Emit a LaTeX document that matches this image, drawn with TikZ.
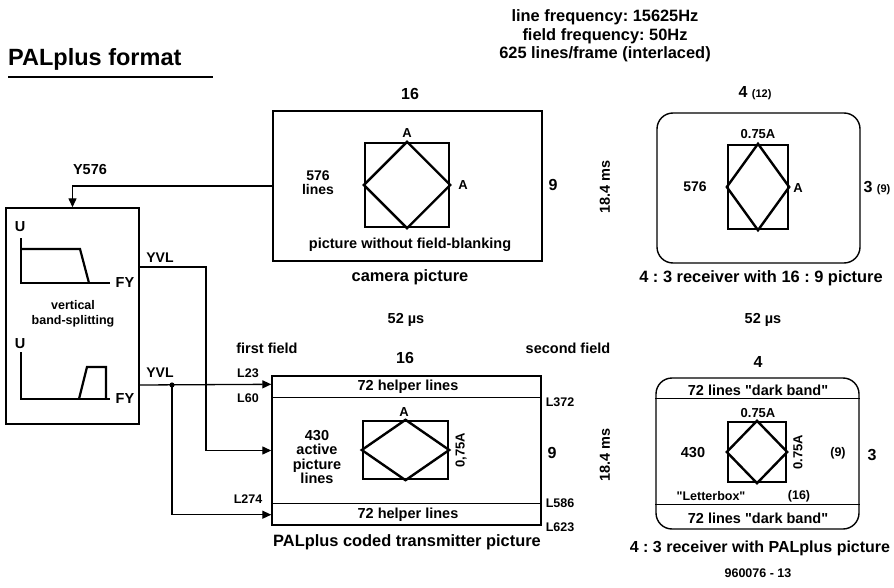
\documentclass[tikz,border=0pt]{standalone}
\usepackage{fontspec}
\setmainfont{Liberation Sans}[Ligatures=TeXOff]
\usetikzlibrary{arrows.meta,calc}
\newcommand{\setpx}[2]{\fontsize{#1}{#2}\selectfont\bfseries}
\tikzset{
  screen/.style = {draw, line width=1.4pt, inner sep=0pt},
  tvset/.style  = {screen, rounded corners=16pt},
  rule/.style   = {line width=1.4pt},
  chart/.style  = {draw, line width=2.4pt, inner sep=0pt},
  curve/.style  = {line width=2.2pt},
  wire/.style   = {line width=1.3pt},
  feed/.style   = {wire, -{Triangle[length=9pt, width=8pt]}},
  capt/.style   = {font=\setpx{16.4}{18.5}, inner sep=1pt, align=center},
  big/.style    = {font=\setpx{16}{18}, inner sep=1pt},
  lab/.style    = {font=\setpx{14.5}{14.5}, inner sep=1pt, align=center},
  sml/.style    = {font=\setpx{12.5}{15.5}, inner sep=1pt, align=center},
  tag/.style    = {font=\setpx{13}{14}, inner sep=1pt},
}

\begin{document}
\frenchspacing
\begin{tikzpicture}[x=1pt, y=-1pt]
  \useasboundingbox (0,0) rectangle (894,588);

  % heading
  \node[font=\setpx{23.5}{26}, anchor=base west, inner sep=0pt] (title) at (8,66) {PALplus format};
  \draw[wire] ($(title.base west)+(0,11)$) -- ++(205,0);
  \node[capt] (info) at (605,36) {line frequency: 15625Hz\\field frequency: 50Hz\\625 lines/frame (interlaced)};

  % camera picture
  \node[screen, minimum width=269pt, minimum height=150pt] (cam) at (407.5,186) {};
  \node[chart, minimum size=84pt] (camsq) at (407,185) {};
  \draw[chart] (camsq.north) -- (camsq.east) -- (camsq.south) -- (camsq.west) -- cycle;
  \node[big]  (camw)  at (410,94)  {16};
  \node[big]  (camh)  at (553,185) {9};
  \node[tag]  (cama)  at (407,133) {A};
  \node[tag]  (camb)  at (463,185) {A};
  \node[lab, font=\setpx{14}{14}] (camln) at (318,183) {576\\lines};
  \node[lab]  (camnb) at (410,245) {picture without field-blanking};
  \node[capt] (camcp) at (410,277) {camera picture};
  \node[lab, rotate=90] (camms) at (605,187) {18.4 ms};
  \node[lab]  (camus) at (406,320) {52 µs};

  % 4:3 receiver with 16:9 picture
  \node[tvset, minimum width=203pt, minimum height=150pt] (rxa) at (758.5,188) {};
  \node[chart, minimum width=60pt, minimum height=84pt] (rxasq) at (758,187) {};
  \draw[chart] (rxasq.north) -- (rxasq.east) -- (rxasq.south) -- (rxasq.west) -- cycle;
  \node[big]  (rxaw)  at (755,93)  {4 {\setpx{11}{12}(12)}};
  \node[big]  (rxah)  at (877,188) {3 {\setpx{11}{12}(9)}};
  \node[tag]  (rxaa)  at (758,134) {0.75A};
  \node[tag]  (rxab)  at (798,188) {A};
  \node[lab, font=\setpx{14}{14}] (rxaln) at (695,187) {576};
  \node[capt] (rxacp) at (761,278) {4 : 3 receiver with 16 : 9 picture};
  \node[lab]  (rxaus) at (763,320) {52 µs};

  % vertical band-splitting
  \node[screen, minimum width=133pt, minimum height=216pt] (split) at (72.5,316) {};
  \draw[wire] (21,238) -- (21,283) -- (110,283);
  \draw[curve] (21,249) -- (80,249) -- (89,283);
  \draw[wire] (21,352) -- (21,399) -- (110,399);
  \draw[curve] (79,399) -- (87,367) -- (106,367) -- (106,399);
  \node[lab] (ua) at (20,227) {U};
  \node[lab] (fa) at (125,283) {FY};
  \node[lab] (ub) at (20,344) {U};
  \node[lab] (fb) at (125,399) {FY};
  \node[sml] (bs) at (73,314) {vertical\\band-splitting};

  % PALplus coded transmitter picture
  \node[screen, minimum width=269pt, minimum height=149pt] (tx) at (406.5,450.5) {};
  \draw[rule] ($(tx.north west)+(0,22)$) -- ($(tx.north east)+(0,22)$);
  \draw[rule] ($(tx.south west)+(0,-22)$) -- ($(tx.south east)+(0,-22)$);
  \node[chart, minimum width=85pt, minimum height=58pt] (txsq) at (405.5,450) {};
  \draw[chart] (txsq.north) -- (txsq.east) -- (txsq.south) -- (txsq.west) -- cycle;
  \node[lab]  (txtop) at (408,387) {72 helper lines};
  \node[lab]  (txbot) at (408,515) {72 helper lines};
  \node[tag]  (txa)   at (404,412) {A};
  \node[tag, rotate=90] (txb) at (461,450) {0,75A};
  \node[lab]  (txln)  at (317,457) {430\\active\\picture\\lines};
  \node[big]  (txw)   at (405,358) {16};
  \node[big]  (txh)   at (552,453) {9};
  \node[lab, rotate=90] (txms) at (605,455) {18.4 ms};
  \node[lab]  (ff)    at (267,348) {first field};
  \node[lab]  (sf)    at (568,348) {second field};
  \node[sml]  (l23)   at (248,373) {L23};
  \node[sml]  (l60)   at (248,398) {L60};
  \node[sml]  (l274)  at (248,499) {L274};
  \node[sml]  (l372)  at (560,402) {L372};
  \node[sml]  (l586)  at (560,503) {L586};
  \node[sml]  (l623)  at (560,527) {L623};
  \node[capt] (txcp)  at (407,542) {PALplus coded transmitter picture};

  % 4:3 receiver with PALplus picture
  \node[tvset, minimum width=203pt, minimum height=151pt] (rxb) at (757.5,453.5) {};
  \draw[rule] ($(rxb.north west)+(0,21)$) -- ($(rxb.north east)+(0,21)$);
  \draw[rule] ($(rxb.south west)+(0,-25)$) -- ($(rxb.south east)+(0,-25)$);
  \node[chart, minimum width=58pt, minimum height=60pt] (rxbsq) at (757,452) {};
  \draw[chart] (rxbsq.north) -- (rxbsq.east) -- (rxbsq.south) -- (rxbsq.west) -- cycle;
  \node[big]  (rxbw)  at (758,362) {4};
  \node[big]  (rxbh)  at (872,455) {3};
  \node[lab]  (rxbtop) at (758,390) {72 lines "dark band"};
  \node[lab]  (rxbbot) at (758,518) {72 lines "dark band"};
  \node[tag]  (rxba)  at (758,413) {0.75A};
  \node[tag, rotate=90] (rxbb) at (798,452) {0.75A};
  \node[lab]  (rxbln) at (693,453) {430};
  \node[sml]  (rxbn)  at (838,453) {(9)};
  \node[sml]  (lbox)  at (711,496) {"Letterbox"};
  \node[sml]  (rxbm)  at (799,496) {(16)};
  \node[capt, font=\setpx{16}{18}] (rxbcp) at (760,548) {4 : 3 receiver with PALplus picture};
  \node[sml]  (fig)   at (758,573) {960076 - 13};

  % signal paths
  \coordinate (yvla) at (139,267);
  \coordinate (yvlb) at (139,385);
  \coordinate (fork) at (172,385);
  \coordinate (in23) at ($(tx.north west)+(0,9)$);
  \coordinate (in274) at ($(tx.south west)+(0,-11)$);
  \draw[feed] (cam.west) -| (split.north);
  \draw[feed] (yvla) -- ++(67,0) |- (tx.west);
  \draw[feed] (yvlb) -- (in23);
  \draw[feed] (fork) |- (in274);
  \fill (fork) circle (2.6pt);
  \node[lab] (y576) at (90,170) {Y576};
  \node[lab, font=\setpx{14}{14}] (yvlu) at (160,258) {YVL};
  \node[lab, font=\setpx{14}{14}] (yvll) at (160,373) {YVL};

\end{tikzpicture}
\end{document}
